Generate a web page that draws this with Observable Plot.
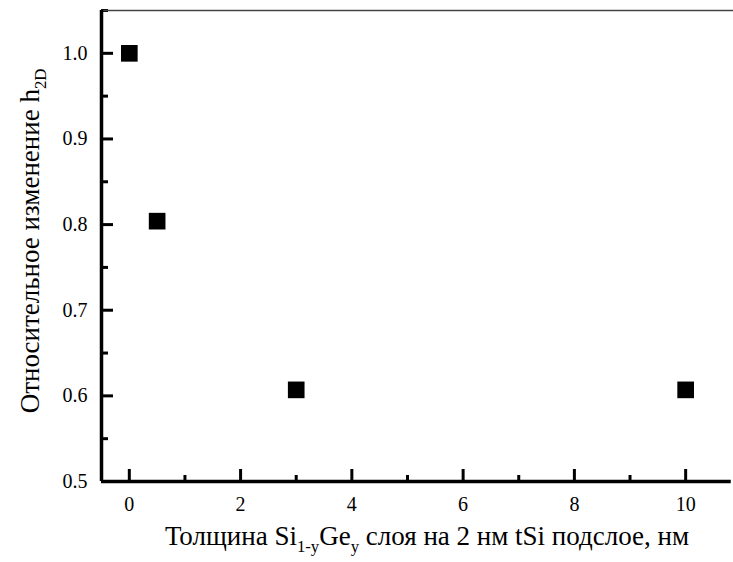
<!DOCTYPE html>
<html>
<head>
<meta charset="utf-8">
<script src="https://cdn.jsdelivr.net/npm/d3@7"></script>
<script src="https://cdn.jsdelivr.net/npm/@observablehq/plot@0.6"></script>
<style>
  html, body { margin: 0; padding: 0; background: #fff; }
  #wrap { position: relative; width: 733px; height: 562px; }
  #titles { position: absolute; left: 0; top: 0; z-index: 1; pointer-events: none; }
</style>
</head>
<body>
<div id="wrap">
<svg id="titles" width="733" height="562" xmlns="http://www.w3.org/2000/svg">
<text x="427" y="545" text-anchor="middle" font-family="Liberation Serif" font-size="27" fill="#000">Толщина Si<tspan font-size="16.7" dy="7">1-y</tspan><tspan dy="-7">Ge</tspan><tspan font-size="16.7" dy="7">y</tspan><tspan dy="-7"> слоя на 2 нм tSi подслое, нм</tspan></text>
<text transform="translate(39,241) rotate(-90)" text-anchor="middle" font-family="Liberation Serif" font-size="27" fill="#000">Относительное изменение h<tspan font-size="16.7" dy="7">2D</tspan></text>
</svg>
<div id="chart"></div>
</div>
<script>
// Thickness of the Si(1-y)Ge(y) layer on a 2 nm tSi sublayer, nm
const thickness = [0, 0.5, 3, 10];
// Relative change of h_2D
const relChange = [1.0, 0.804, 0.607, 0.607];

const xMajorTicks = [0, 2, 4, 6, 8, 10];
const xMinorTicks = [1, 3, 5, 7, 9];
const yMajorTicks = [0.5, 0.6, 0.7, 0.8, 0.9, 1.0];
const yMinorTicks = [0.55, 0.65, 0.75, 0.85, 0.95, 1.05];

const points = thickness.map((x, i) => ({x, y: relChange[i]}));

const W = 733, H = 562;
const mL = 101, mR = 0, mT = 10, mB = 81;
const innerW = W - mL - mR, innerH = H - mT - mB;
const font = "Liberation Serif";

const plot = Plot.plot({
  width: W,
  height: H,
  marginLeft: mL,
  marginRight: mR,
  marginTop: mT,
  marginBottom: mB,
  style: {fontFamily: font, fontSize: "20px"},
  x: {domain: [-0.5, 10.86]},
  y: {domain: [0.5, 1.05]},
  marks: [
    // inward major / minor ticks
    Plot.tickX(xMajorTicks, {x: d => d, insetTop: innerH - 12, stroke: "#000", strokeWidth: 3}),
    Plot.tickX(xMinorTicks, {x: d => d, insetTop: innerH - 6, stroke: "#000", strokeWidth: 3}),
    Plot.tickY(yMajorTicks, {y: d => d, insetRight: innerW - 12, stroke: "#000", strokeWidth: 3}),
    Plot.tickY(yMinorTicks, {y: d => d, insetRight: innerW - 7, stroke: "#000", strokeWidth: 3}),
    // frame lines
    Plot.ruleY([1.05], {stroke: "#444", strokeWidth: 1.5}),
    Plot.ruleX([-0.5], {stroke: "#000", strokeWidth: 3.5}),
    Plot.ruleY([0.5], {stroke: "#000", strokeWidth: 3.5, x1: -0.5, x2: 10.82}),
    // tick labels
    Plot.axisX({ticks: xMajorTicks, tickSize: 0, tickPadding: 15, label: null, tickFormat: d3.format("d"), fontSize: 20, fill: "#000"}),
    Plot.axisY({ticks: yMajorTicks, tickSize: 0, tickPadding: 14, label: null, tickFormat: d3.format(".1f"), fontSize: 20, fill: "#000"}),
    // data
    Plot.dot(points, {x: "x", y: "y", symbol: "square", r: 9.4, fill: "#000", stroke: "none"})
  ]
});

document.getElementById("chart").appendChild(plot);
</script>
</body>
</html>
